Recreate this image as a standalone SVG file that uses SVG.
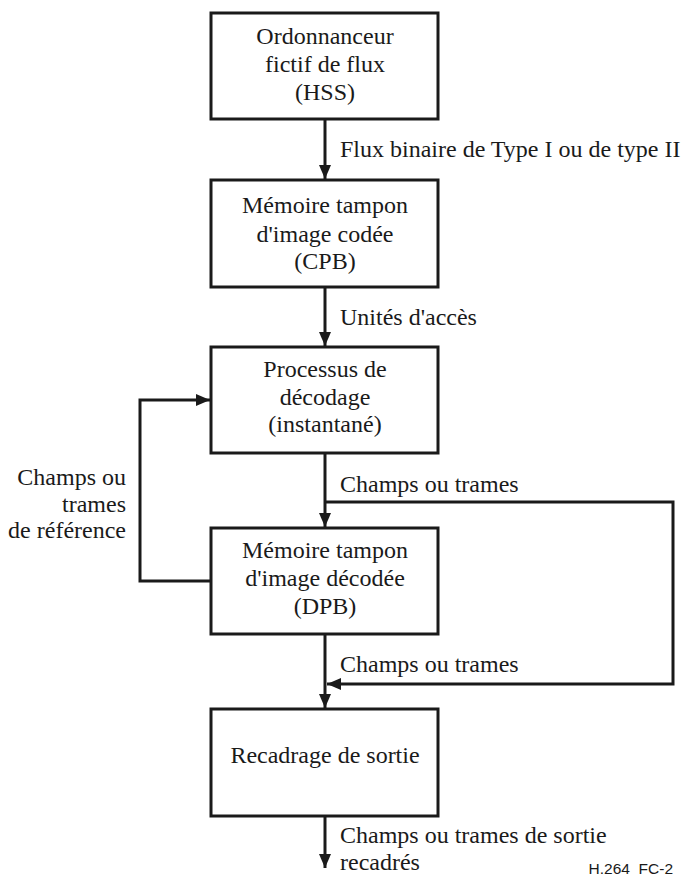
<svg xmlns="http://www.w3.org/2000/svg" width="682" height="876" viewBox="0 0 682 876">
  <style>
    .box { fill: #ffffff; stroke: #1a1a1a; stroke-width: 3; }
    .wire { fill: none; stroke: #1a1a1a; stroke-width: 3; }
    text { font-family: "Liberation Serif", "Times New Roman", serif; font-size: 24px; fill: #1a1a1a; }
    .c { text-anchor: middle; }
    .r { text-anchor: end; }
    .tag { font-family: "Liberation Sans", Arial, sans-serif; font-size: 15.5px; text-anchor: end; }
  </style>
  <defs>
    <marker id="arrow" viewBox="0 0 14 12" refX="14" refY="6" markerWidth="14" markerHeight="12" markerUnits="userSpaceOnUse" orient="auto">
      <path d="M0,0 L14,6 L0,12 Z" fill="#1a1a1a"/>
    </marker>
  </defs>

  <rect width="682" height="876" fill="#ffffff"/>

  <g id="connectors">
    <line class="wire" x1="325" y1="119" x2="325" y2="179" marker-end="url(#arrow)"/>
    <line class="wire" x1="325" y1="287" x2="325" y2="346" marker-end="url(#arrow)"/>
    <line class="wire" x1="325" y1="453" x2="325" y2="527" marker-end="url(#arrow)"/>
    <polyline class="wire" points="211,581 140,581 140,400 210,400" marker-end="url(#arrow)"/>
    <polyline class="wire" points="325,502 673,502 673,684 327,684" marker-end="url(#arrow)"/>
    <line class="wire" x1="325" y1="634" x2="325" y2="708" marker-end="url(#arrow)"/>
    <line class="wire" x1="325" y1="816" x2="325" y2="868" marker-end="url(#arrow)"/>
    <text x="340" y="157">Flux binaire de Type I ou de type II</text>
    <text x="340" y="325">Unités d'accès</text>
    <text x="340" y="492">Champs ou trames</text>
    <text class="r" x="126" y="485">Champs ou</text>
    <text class="r" x="126" y="512">trames</text>
    <text class="r" x="126" y="538">de référence</text>
    <text x="340" y="672">Champs ou trames</text>
    <text x="340" y="843">Champs ou trames de sortie</text>
    <text x="340" y="870">recadrés</text>
  </g>

  <g id="hss">
    <rect class="box" x="211" y="13" width="227" height="106"/>
    <text class="c" x="325" y="44">Ordonnanceur</text>
    <text class="c" x="325" y="72">fictif de flux</text>
    <text class="c" x="325" y="100">(HSS)</text>
  </g>

  <g id="cpb">
    <rect class="box" x="211" y="180" width="227" height="107"/>
    <text class="c" x="325" y="213">Mémoire tampon</text>
    <text class="c" x="325" y="242">d'image codée</text>
    <text class="c" x="325" y="269">(CPB)</text>
  </g>

  <g id="decode">
    <rect class="box" x="211" y="347" width="227" height="106"/>
    <text class="c" x="325" y="377">Processus de</text>
    <text class="c" x="325" y="405">décodage</text>
    <text class="c" x="325" y="432">(instantané)</text>
  </g>

  <g id="dpb">
    <rect class="box" x="211" y="528" width="227" height="106"/>
    <text class="c" x="325" y="558">Mémoire tampon</text>
    <text class="c" x="325" y="586">d'image décodée</text>
    <text class="c" x="325" y="614">(DPB)</text>
  </g>

  <g id="crop">
    <rect class="box" x="211" y="709" width="227" height="107"/>
    <text class="c" x="325" y="763">Recadrage de sortie</text>
  </g>

  <text class="tag" x="673" y="874" xml:space="preserve">H.264  FC-2</text>
</svg>
